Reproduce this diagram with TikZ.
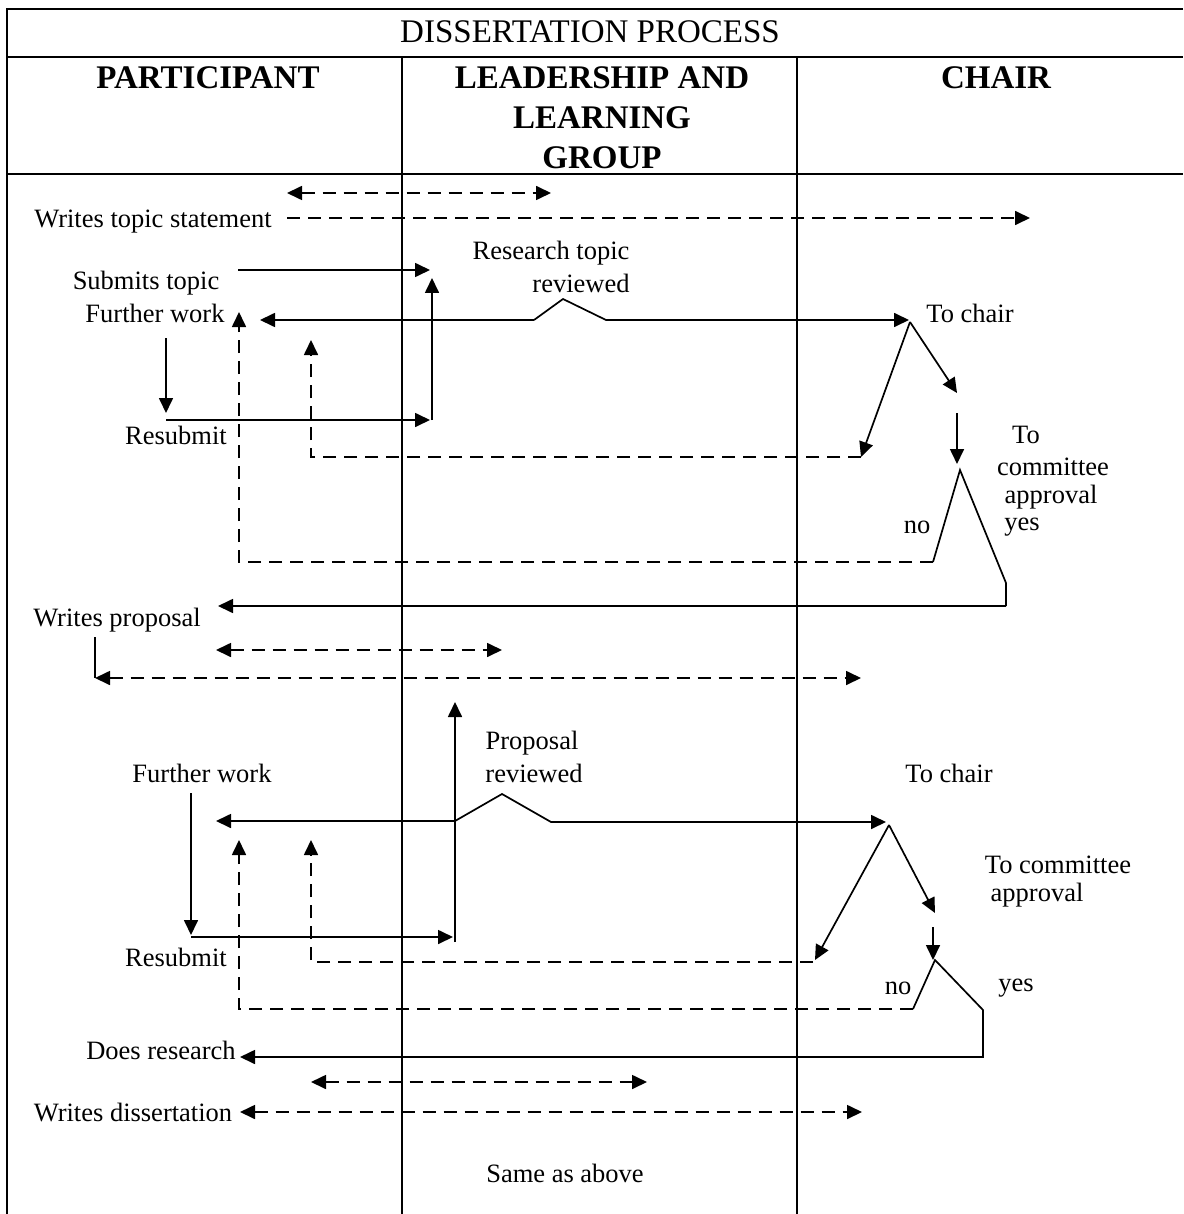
\documentclass[tikz,border=0pt]{standalone}
\usepackage{fontspec}
\setmainfont{Liberation Serif}
\usetikzlibrary{arrows.meta}
\begin{document}
\begin{tikzpicture}[x=1pt,y=-1pt,
  tx/.style={inner sep=0pt,font=\fontsize{26.5}{30}\selectfont},
  hd/.style={inner sep=0pt,font=\fontsize{33}{40}\selectfont\bfseries,align=center},
  ttl/.style={inner sep=0pt,font=\fontsize{33}{40}\selectfont},
  gridln/.style={line width=2pt},
  sln/.style={line width=1.7pt},
  tipa/.tip={Triangle[length=15pt,width=14pt]},
  sarr/.style={sln,-tipa},
  dln/.style={line width=1.7pt,dash pattern=on 13pt off 8pt},
  darr/.style={dln,-tipa},
  ddarr/.style={dln,tipa-tipa},
]
\useasboundingbox (0,0) rectangle (1183,1214);
% table
\draw[gridln] (1183,9) -- (7,9) -- (7,1214);
\draw[gridln] (7,57) -- (1183,57);
\draw[gridln] (7,174) -- (1183,174);
\draw[gridln] (402,57) -- (402,1214);
\draw[gridln] (797,57) -- (797,1214);
% headers
\node[ttl] (title) at (590,32) {DISSERTATION PROCESS};
\node[hd] (hpart) at (208,78) {PARTICIPANT};
\node[hd] (hllg) at (602,118) {LEADERSHIP AND\\LEARNING\\GROUP};
\node[hd] (hchair) at (996,78) {CHAIR};
% texts
\node[tx] (wts) at (153,222) {Writes topic statement};
\node[tx] (rt1) at (551,253) {Research topic};
\node[tx] (rt2) at (581,283) {reviewed};
\node[tx] (sub) at (146,283) {Submits topic};
\node[tx] (fw1) at (155,313) {Further work};
\node[tx] (rs1) at (176,435) {Resubmit};
\node[tx] (tc1) at (970,313) {To chair};
\node[tx] (to1) at (1026,435) {To};
\node[tx] (cm1) at (1053,467) {committee};
\node[tx] (ap1) at (1051,497) {approval};
\node[tx] (yes1) at (1022,527) {yes};
\node[tx] (no1) at (917,527) {no};
\node[tx] (wp) at (117,620) {Writes proposal};
\node[tx] (pr1) at (532,743) {Proposal};
\node[tx] (pr2) at (534,773) {reviewed};
\node[tx] (fw2) at (202,773) {Further work};
\node[tx] (tc2) at (949,773) {To chair};
\node[tx] (tcm) at (1058,865) {To committee};
\node[tx] (ap2) at (1037,895) {approval};
\node[tx] (rs2) at (176,957) {Resubmit};
\node[tx] (no2) at (898,988) {no};
\node[tx] (yes2) at (1016,988) {yes};
\node[tx] (dr) at (161,1050) {Does research};
\node[tx] (wd) at (133,1112) {Writes dissertation};
\node[tx] (saa) at (565,1173) {Same as above};
% coordinates, first block
\coordinate (a1l) at (287,193); \coordinate (a1r) at (551,193);
\coordinate (a2l) at (287,218); \coordinate (a2r) at (1030,218);
\coordinate (s1a) at (238,270); \coordinate (s1b) at (430,270);
\coordinate (u1a) at (432,420); \coordinate (u1b) at (432,278);
\coordinate (f1a) at (534,320); \coordinate (f1b) at (260,320);
\coordinate (b1p) at (563,299); \coordinate (b1r) at (606,320);
\coordinate (c1) at (909,320); \coordinate (c1s) at (910,322);
\coordinate (d1a) at (933,562); \coordinate (d1c) at (239,562); \coordinate (d1t) at (239,312);
\coordinate (ap1p) at (960,470); \coordinate (y1a) at (1006,583); \coordinate (y1b) at (1006,606);
\coordinate (wpa) at (218,606);
\coordinate (e1a) at (861,457); \coordinate (e1c) at (311,457); \coordinate (e1t) at (311,340);
\coordinate (k1a) at (957,393);
\coordinate (m1a) at (957,413); \coordinate (m1b) at (957,464);
\coordinate (r1a) at (166,338); \coordinate (r1b) at (166,413);
\coordinate (r1c) at (166,420); \coordinate (r1d) at (430,420);
% coordinates, second block
\coordinate (wpv1) at (95,637); \coordinate (wpv2) at (95,678); \coordinate (wpr) at (861,678);
\coordinate (g2l) at (216,650); \coordinate (g2r) at (502,650);
\coordinate (u2a) at (455,942); \coordinate (u2b) at (455,702);
\coordinate (f2a) at (455,821); \coordinate (f2b) at (216,821);
\coordinate (b2p) at (502,794); \coordinate (b2r) at (551,822); \coordinate (c2) at (886,822);
\coordinate (c2s) at (889,825);
\coordinate (r2a) at (191,793); \coordinate (r2b) at (191,935);
\coordinate (r2c) at (191,937); \coordinate (r2d) at (453,937);
\coordinate (e2a) at (813,962); \coordinate (e2c) at (311,962); \coordinate (e2t) at (311,840);
\coordinate (d2a) at (913,1009); \coordinate (d2c) at (239,1009); \coordinate (d2t) at (239,840);
\coordinate (e2tip) at (815,960);
\coordinate (k2a) at (935,913);
\coordinate (m2a) at (933,927); \coordinate (m2b) at (933,960);
\coordinate (ap2p) at (935,960); \coordinate (y2a) at (983,1010); \coordinate (y2b) at (983,1057);
\coordinate (dra) at (240,1057);
\coordinate (g3l) at (311,1082); \coordinate (g3r) at (647,1082);
\coordinate (g4l) at (240,1112); \coordinate (g4r) at (862,1112);
% connectors, first block
\draw[ddarr] (a1l) -- (a1r);
\draw[darr] (a2l) -- (a2r);
\draw[sarr] (s1a) -- (s1b);
\draw[sarr] (u1a) -- (u1b);
\draw[sarr] (f1a) -- (f1b);
\draw[sarr] (f1a) -- (b1p) -- (b1r) -- (c1);
\draw[darr] (d1a) -- (d1c) -- (d1t);
\draw[sln] (d1a) -- (ap1p) -- (y1a) -- (y1b);
\draw[sarr] (y1b) -- (wpa);
\draw[darr] (e1a) -- (e1c) -- (e1t);
\draw[sarr] (c1s) -- (e1a);
\draw[sarr] (c1s) -- (k1a);
\draw[sarr] (m1a) -- (m1b);
\draw[sarr] (r1a) -- (r1b);
\draw[sarr] (r1c) -- (r1d);
% connectors, second block
\draw[sln] (wpv1) -- (wpv2);
\draw[ddarr] (wpv2) -- (wpr);
\draw[ddarr] (g2l) -- (g2r);
\draw[sarr] (u2a) -- (u2b);
\draw[sarr] (f2a) -- (f2b);
\draw[sarr] (f2a) -- (b2p) -- (b2r) -- (c2);
\draw[sarr] (r2a) -- (r2b);
\draw[sarr] (r2c) -- (r2d);
\draw[darr] (e2a) -- (e2c) -- (e2t);
\draw[darr] (d2a) -- (d2c) -- (d2t);
\draw[sarr] (c2s) -- (e2tip);
\draw[sarr] (c2s) -- (k2a);
\draw[sarr] (m2a) -- (m2b);
\draw[sarr] (d2a) -- (ap2p) -- (y2a) -- (y2b) -- (dra);
\draw[ddarr] (g3l) -- (g3r);
\draw[ddarr] (g4l) -- (g4r);
\end{tikzpicture}
\end{document}
